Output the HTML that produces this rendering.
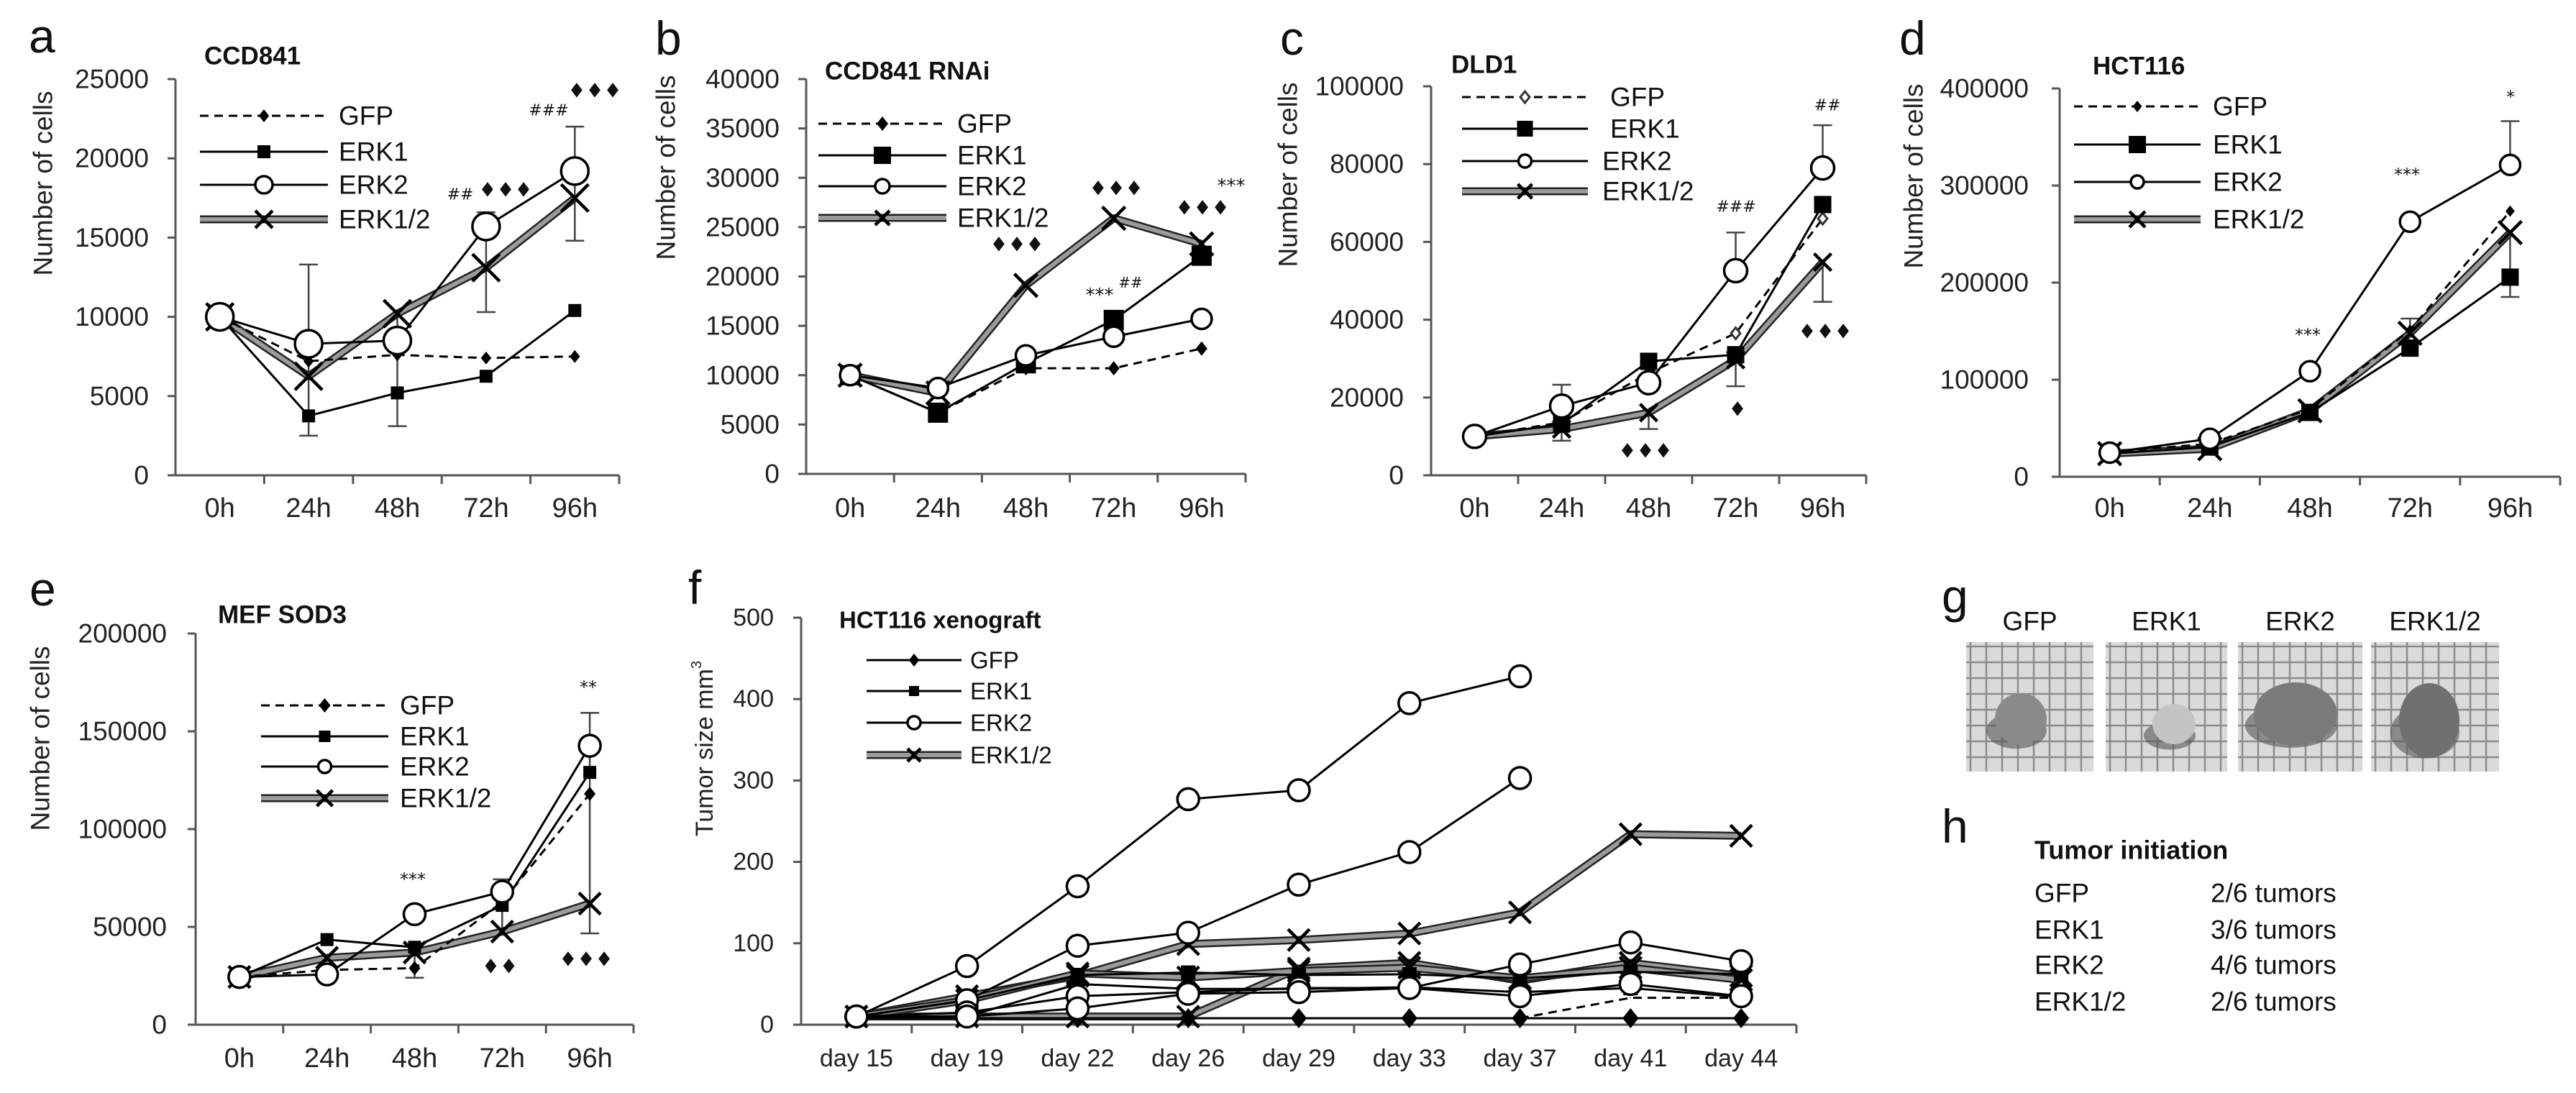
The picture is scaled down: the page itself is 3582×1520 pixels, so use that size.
<!DOCTYPE html>
<html><head><meta charset="utf-8"><style>
html,body{margin:0;padding:0;background:#fff;}
svg{display:block;font-family:"Liberation Sans",Arial,sans-serif;}
</style></head><body>
<svg id="fig" width="3582" height="1520" viewBox="0 0 3582 1520" xmlns="http://www.w3.org/2000/svg">
<rect x="0" y="0" width="3582" height="1520" fill="#fff"/>
<g id="photos"></g>
</svg>
<script>
// ---------- DATA ----------
const hours = ["0h","24h","48h","72h","96h"];
const aTicks = ["0","5000","10000","15000","20000","25000"];
const aGFP = [10000,7200,7600,7400,7500];
const aERK1 = [10000,3750,5200,6250,10400];
const aERK2 = [10000,8300,8500,15700,19200];
const aERK12 = [10000,6250,10200,13100,17500];
const aErrLo = [null,2500,3100,10300,14800];
const aErrHi = [null,13300,null,16600,22000];

const bTicks = ["0","5000","10000","15000","20000","25000","30000","35000","40000"];
const bGFP = [10000,6200,10700,10700,12700];
const bERK1 = [10000,6200,11200,15600,22100];
const bERK2 = [10000,8700,12000,13900,15700];
const bERK12 = [10000,8200,19100,25900,23300];

const cTicks = ["0","20000","40000","60000","80000","100000"];
const cGFP = [10000,13600,26300,36500,66000];
const cERK1 = [10000,13200,29300,31000,69600];
const cERK2 = [10000,17800,23800,52600,79000];
const cERK12 = [10000,11900,16100,29700,54800];
const cErrLo = [null,8900,11900,22900,44600];
const cErrHi = [null,23300,null,62400,90000];

const dTicks = ["0","100000","200000","300000","400000"];
const dGFP = [25500,34000,69700,151000,273600];
const dERK1 = [23800,30600,66300,132500,205600];
const dERK2 = [24800,39100,108700,262700,321200];
const dERK12 = [23800,28900,68000,147800,251500];
const dErrLo = [null,null,null,null,185200];
const dErrHi = [null,null,null,163000,366300];

const eTicks = ["0","50000","100000","150000","200000"];
const eGFP = [24400,28000,28900,62700,118000];
const eERK1 = [24400,43500,39600,61000,129000];
const eERK2 = [24400,25700,56500,68000,142600];
const eERK12 = [24400,34200,36900,47600,61900];
const eErrLo = [null,null,24000,null,46700];
const eErrHi = [null,null,null,74300,159400];

const days = ["day 15","day 19","day 22","day 26","day 29","day 33","day 37","day 41","day 44"];
const fTicks = ["0","100","200","300","400","500"];
const fGFP1 = [8,8,8,8,8,8,8,8,8];
const fGFP2 = [null,null,null,null,null,null,8,33,33];
const fERK1a = [10,30,61,64,61,62,57,65,62];
const fERK1b = [10,10,50,44,44,46,40,45,34];
const fERK2a = [10,72,170,277,288,395,428,null,null];
const fERK2b = [10,30,97,113,172,212,303,null,null];
const fERK2c = [10,15,35,40,45,45,74,101,78];
const fERK2d = [10,10,20,38,40,45,35,50,35];
const fERK12a = [10,35,60,99,104,112,138,234,232];
const fERK12b = [10,10,10,10,69,76,54,76,60];
const fERK12c = [10,30,63,58,66,70,57,70,55];

const gLabels = ["GFP","ERK1","ERK2","ERK1/2"];
const hGroups = ["GFP","ERK1","ERK2","ERK1/2"];
const hCounts = ["2/6 tumors","3/6 tumors","4/6 tumors","2/6 tumors"];

// ---------- HELPERS ----------
const NS = "http://www.w3.org/2000/svg";
const svg = document.getElementById("fig");
function mk(tag, attrs, parent){
  const e = document.createElementNS(NS, tag);
  for (const k in attrs) e.setAttribute(k, attrs[k]);
  (parent||svg).appendChild(e);
  return e;
}
function txt(str, attrs, parent){
  const e = mk("text", attrs, parent);
  e.textContent = str;
  return e;
}
function marker(type, x, y, s, g){
  let m;
  if (type==="diamond"){
    m = mk("polygon",{points:`${x},${y-s} ${x+s*0.8},${y} ${x},${y+s} ${x-s*0.8},${y}`,fill:"#000"},g);
  } else if (type==="odiamond"){
    m = mk("polygon",{points:`${x},${y-s} ${x+s*0.8},${y} ${x},${y+s} ${x-s*0.8},${y}`,fill:"#fff",stroke:"#333","stroke-width":3},g);
  } else if (type==="square"){
    m = mk("rect",{x:x-s,y:y-s,width:2*s,height:2*s,fill:"#000"},g);
  } else if (type==="circle"){
    m = mk("circle",{cx:x,cy:y,r:s,fill:"#fff",stroke:"#000","stroke-width":3.5},g);
  } else {
    m = mk("path",{d:`M${x-s},${y-s}L${x+s},${y+s}M${x-s},${y+s}L${x+s},${y-s}`,stroke:"#000","stroke-width":4.5,fill:"none"},g);
  }
  
  
}
function drawLine(pts, style, g){
  const d = pts.map((p,i)=>(i?"L":"M")+p[0]+","+p[1]).join("");
  if (style==="double"){
    const o = mk("path",{d:d,stroke:"#222","stroke-width":11,fill:"none","stroke-linejoin":"round"},g);
    
    
    const i = mk("path",{d:d,stroke:"#9a9a9a","stroke-width":6,fill:"none","stroke-linejoin":"round"},g);
    
    
  } else {
    const a = {d:d,stroke:"#000","stroke-width":3,fill:"none"};
    if (style==="dashed") a["stroke-dasharray"]="12 8";
    const l = mk("path",a,g);
    
    
  }
}

function panel(P){
  const g = mk("g",{});
  
  
  const n = P.cats.length;
  const band = (P.right-P.left)/n;
  const xs = i => P.left + (i+0.5)*band;
  const ys = v => P.base - v/P.max*(P.base-P.top);
  const ya = mk("line",{x1:P.left,y1:P.top,x2:P.left,y2:P.base,stroke:"#555","stroke-width":3},g);
  
  
  const xa = mk("line",{x1:P.left-10,y1:P.base,x2:P.right,y2:P.base,stroke:"#555","stroke-width":3},g);
  
  
  P.ticks.forEach((t,i)=>{
    const v = i*P.max/(P.ticks.length-1);
    const y = ys(v);
    const tk = mk("line",{x1:P.left-11,y1:y,x2:P.left,y2:y,stroke:"#555","stroke-width":3},g);
    
    
    const tl = txt(t,{x:P.left-P.lgap,y:y,"text-anchor":"end","dominant-baseline":"central","font-size":P.tfs,fill:"#222"},g);
    
    
  });
  for (let i=1;i<=n;i++){
    const x = P.left+i*band;
    const tk = mk("line",{x1:x,y1:P.base,x2:x,y2:P.base+12,stroke:"#555","stroke-width":3},g);
    
    
  }
  P.cats.forEach((c,i)=>{
    const tl = txt(c,{x:xs(i),y:P.xly,"text-anchor":"middle","dominant-baseline":"central","font-size":P.xfs,fill:"#222"},g);
    
    
  });
  const yt = txt(P.ytitle,{x:0,y:0,transform:`translate(${P.ytx},${P.yty}) rotate(-90)`,"text-anchor":"middle","dominant-baseline":"central","font-size":P.tfs,fill:"#222"},g);
  
  
  if (P.sup){ const s=mk("tspan",{"baseline-shift":"super","font-size":P.tfs*0.6},yt); s.textContent=P.sup; }
  const tt = txt(P.title,{x:P.titleX,y:P.titleY,"dominant-baseline":"central","font-size":P.titleFs,"font-weight":"bold",fill:"#111"},g);
  
  
  const pl = txt(P.letter,{x:P.letX,y:P.letY,"font-size":66,fill:"#111"},g);
  
  
  (P.errs||[]).forEach(e=>{
    e.vals.forEach((v,i)=>{
      if (v===null) return;
      const x = xs(i), y1 = ys(v), y2 = ys(e.mid[i]);
      const eb = mk("path",{d:`M${x},${y1}L${x},${y2}M${x-13},${y1}L${x+13},${y1}`,stroke:"#444","stroke-width":2.5,fill:"none"},g);
      
      
    });
  });
  P.series.forEach(s=>{
    const sg = mk("g",{},g);
    
    
    const pts = [];
    s.vals.forEach((v,i)=>{ if (v!==null) pts.push([xs(i),ys(v)]); });
    drawLine(pts, s.style, sg);
    pts.forEach(p=>marker(s.marker,p[0],p[1],s.size,sg));
  });
  if (P.legend){
    const L = P.legend;
    const lg = mk("g",{},g);
    
    
    L.items.forEach((it,i)=>{
      const y = L.rows[i];
      const eg = mk("g",{},lg);
      
      
      drawLine([[L.x1,y],[L.x2,y]], it.style, eg);
      marker(it.marker,(L.x1+L.x2)/2,y,it.size,eg);
      const t = txt(it.label,{x:L.tx[i],y:y,"dominant-baseline":"central","font-size":L.fs,fill:"#111"},eg);
      
      
    });
  }
  (P.ann||[]).forEach(a=>{
    const t = txt(a[0],{x:a[1],y:a[2],"text-anchor":"middle","dominant-baseline":"central","font-size":a[3],"font-family":"DejaVu Sans, sans-serif",fill:"#111"},g);
    
    
  });
}

function legendItems(sz){
  return [
    {label:"GFP",style:"dashed",marker:"diamond",size:sz[0]},
    {label:"ERK1",style:"solid",marker:"square",size:sz[1]},
    {label:"ERK2",style:"solid",marker:"circle",size:sz[2]},
    {label:"ERK1/2",style:"double",marker:"x",size:sz[3]}];
}
function series4(gfp,e1,e2,e12,sz,gm){
  return [
    {label:"ERK1/2",vals:e12,style:"double",marker:"x",size:sz[3]},
    {label:"GFP",vals:gfp,style:"dashed",marker:gm||"diamond",size:sz[0]},
    {label:"ERK1",vals:e1,style:"solid",marker:"square",size:sz[1]},
    {label:"ERK2",vals:e2,style:"solid",marker:"circle",size:sz[2]}];
}
function errs(lo,hi,midLo,midHi){ return [{vals:lo,mid:midLo},{vals:hi,mid:midHi||midLo}]; }

const DD = "\u2666\u2666\u2666";
panel({name:"panel-a-ccd841",letter:"a",letX:40,letY:73,cats:hours,ticks:aTicks,max:25000,left:244,right:861,base:661,top:110,
  tfs:37,xfs:38,lgap:37,xly:707,ytitle:"Number of cells",ytx:60,yty:255,title:"CCD841",titleX:284,titleY:78,titleFs:35,
  errs:errs(aErrLo,aErrHi,aERK12),
  series:series4(aGFP,aERK1,aERK2,aERK12,[9,9,19,19]),
  legend:{x1:278,x2:456,rows:[161,211,257,305],tx:[471,471,471,471],fs:37,items:legendItems([9,9,12,12])},
  ann:[["##",640,271,22],[DD,703,264,28],["###",763,154,22],[DD,827,126,28]]});

panel({name:"panel-b-ccd841-rnai",letter:"b",letX:911,letY:76,cats:hours,ticks:bTicks,max:40000,left:1121,right:1732,base:659,top:110,
  tfs:37,xfs:38,lgap:37,xly:707,ytitle:"Number of cells",ytx:926,yty:233,title:"CCD841 RNAi",titleX:1147,titleY:99,titleFs:35,
  series:series4(bGFP,bERK1,bERK2,bERK12,[10,14,14,16]),
  legend:{x1:1138,x2:1316,rows:[172,216,259,303],tx:[1331,1331,1331,1331],fs:37,items:legendItems([10,12,10,10])},
  ann:[[DD,1414,340,28],["***",1529,411,26],["##",1572,393,20],[DD,1552,262,28],[DD,1672,289,28],["***",1712,259,26]]});

panel({name:"panel-c-dld1",letter:"c",letX:1780,letY:76,cats:hours,ticks:cTicks,max:100000,left:1990,right:2595,base:661,top:120,
  tfs:37,xfs:38,lgap:38,xly:707,ytitle:"Number of cells",ytx:1791,yty:243,title:"DLD1",titleX:2018,titleY:90,titleFs:35,
  errs:errs(cErrLo,cErrHi,cERK12,cERK2),
  series:series4(cGFP,cERK1,cERK2,cERK12,[8,12,16,12],"odiamond"),
  legend:{x1:2033,x2:2208,rows:[135,179,224,266],tx:[2239,2239,2228,2228],fs:37,items:[
    {label:"GFP",style:"dashed",marker:"odiamond",size:8},
    {label:"ERK1",style:"solid",marker:"square",size:11},
    {label:"ERK2",style:"solid",marker:"circle",size:9},
    {label:"ERK1/2",style:"double",marker:"x",size:10}]},
  ann:[["###",2414,288,22],["##",2541,147,22],[DD,2538,461,28],["\u2666",2416,569,28],[DD,2288,627,28]]});

panel({name:"panel-d-hct116",letter:"d",letX:2641,letY:76,cats:hours,ticks:dTicks,max:400000,left:2864,right:3560,base:663,top:123,
  tfs:37,xfs:38,lgap:43,xly:707,ytitle:"Number of cells",ytx:2661,yty:245,title:"HCT116",titleX:2910,titleY:92,titleFs:35,
  errs:errs(dErrLo,dErrHi,dERK12,[null,null,null,147800,321200]),
  series:series4(dGFP,dERK1,dERK2,dERK12,[8,12,14,16]),
  legend:{x1:2884,x2:3060,rows:[148,201,253,305],tx:[3077,3077,3077,3077],fs:37,items:legendItems([8,12,9,11])},
  ann:[["***",3209,466,24],["***",3347,243,24],["*",3491,135,24]]});

panel({name:"panel-e-mef-sod3",letter:"e",letX:41,letY:842,cats:hours,ticks:eTicks,max:200000,left:272,right:881,base:1425,top:881,
  tfs:37,xfs:38,lgap:40,xly:1472,ytitle:"Number of cells",ytx:56,yty:1027,title:"MEF SOD3",titleX:303,titleY:855,titleFs:35,
  errs:errs(eErrLo,eErrHi,eERK12),
  series:series4(eGFP,eERK1,eERK2,eERK12,[10,9,15,15]),
  legend:{x1:363,x2:540,rows:[981,1024,1066,1110],tx:[556,556,556,556],fs:37,items:legendItems([10,8,9,11])},
  ann:[["***",574,1223,24],["\u2666\u2666",695,1344,28],["**",818,956,24],[DD,815,1334,28]]});

panel({name:"panel-f-xenograft",letter:"f",letX:957,letY:840,cats:days,ticks:fTicks,max:500,left:1114,right:2498,base:1425,top:859,
  tfs:34,xfs:34,lgap:38,xly:1472,ytitle:"Tumor size mm",sup:"3",ytx:980,yty:1041,title:"HCT116 xenograft",titleX:1167,titleY:862,titleFs:33,
  series:[
    {label:"ERK1/2",vals:fERK12a,style:"double",marker:"x",size:15},
    {label:"ERK1/2",vals:fERK12b,style:"double",marker:"x",size:15},
    {label:"ERK1/2",vals:fERK12c,style:"double",marker:"x",size:15},
    {label:"GFP",vals:fGFP1,style:"solid",marker:"diamond",size:14},
    {label:"GFP",vals:fGFP2,style:"dashed",marker:"diamond",size:1},
    {label:"ERK1",vals:fERK1a,style:"solid",marker:"square",size:10},
    {label:"ERK1",vals:fERK1b,style:"solid",marker:"square",size:10},
    {label:"ERK2",vals:fERK2a,style:"solid",marker:"circle",size:15},
    {label:"ERK2",vals:fERK2b,style:"solid",marker:"circle",size:15},
    {label:"ERK2",vals:fERK2c,style:"solid",marker:"circle",size:15},
    {label:"ERK2",vals:fERK2d,style:"solid",marker:"circle",size:15}],
  legend:{x1:1205,x2:1337,rows:[918,961,1005,1050],tx:[1349,1349,1349,1349],fs:33,items:[
    {label:"GFP",style:"solid",marker:"diamond",size:9},
    {label:"ERK1",style:"solid",marker:"square",size:7},
    {label:"ERK2",style:"solid",marker:"circle",size:9},
    {label:"ERK1/2",style:"double",marker:"x",size:9}]}});

const pg = document.getElementById("photos");
const gl = txt("g",{x:2700,y:852,"font-size":66,fill:"#111"},pg);


const boxes = [[2734,2911],[2928,3097],[3112,3285],[3297,3475]];
const tumors = [[2810,1000,36,36,"#8a8a8a"],[3023,1007,30,28,"#c4c4c4"],[3192,993,58,44,"#7a7a7a"],[3378,1002,42,52,"#707070"]];
gLabels.forEach((lab,i)=>{
  const b = boxes[i];
  const t = txt(lab,{x:(b[0]+b[1])/2,y:864,"text-anchor":"middle","dominant-baseline":"central","font-size":37,fill:"#111"},pg);
  
  
  const r = mk("rect",{x:b[0],y:893,width:b[1]-b[0],height:180,fill:"#dadada"},pg);
  
  
  for (let x=b[0]+6;x<b[1];x+=22){ mk("line",{x1:x,y1:893,x2:x,y2:1073,stroke:"#8c8c8c","stroke-width":2.5},pg); }
  for (let y=899;y<1073;y+=22){ mk("line",{x1:b[0],y1:y,x2:b[1],y2:y,stroke:"#8c8c8c","stroke-width":2.5},pg); }
  const tm = tumors[i];
  mk("ellipse",{cx:tm[0]-6,cy:tm[1]+16,rx:tm[2]+6,ry:tm[3]*0.7,fill:"#555",opacity:0.6},pg);
  const tu = mk("ellipse",{cx:tm[0],cy:tm[1],rx:tm[2],ry:tm[3],fill:tm[4]},pg);
  
  
});

const hl = txt("h",{x:2700,y:1172,"font-size":66,fill:"#111"},svg);


const ht = txt("Tumor initiation",{x:2829,y:1182,"dominant-baseline":"central","font-size":36,"font-weight":"bold",fill:"#111"},svg);


const hRows = [1242,1293,1342,1393];
hGroups.forEach((gname,i)=>{
  const a = txt(gname,{x:2829,y:hRows[i],"dominant-baseline":"central","font-size":37,fill:"#111"},svg);
  
  
  const b = txt(hCounts[i],{x:3074,y:hRows[i],"dominant-baseline":"central","font-size":37,fill:"#111"},svg);
  
  
});
</script>
</body></html>
